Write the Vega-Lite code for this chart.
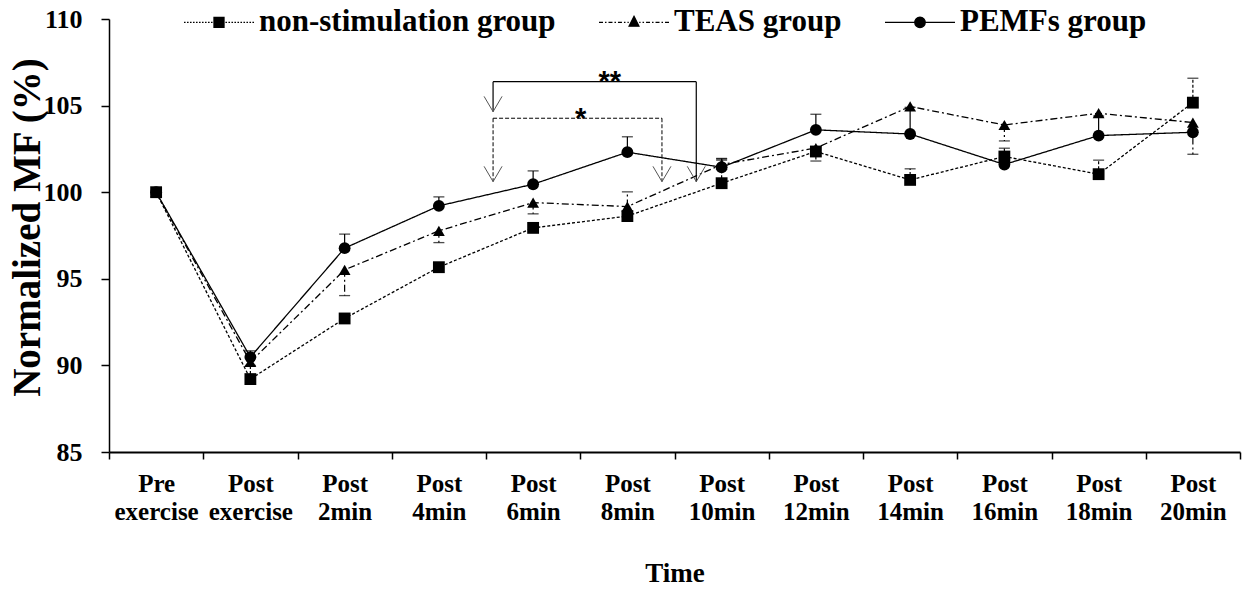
{
  "$schema": "https://vega.github.io/schema/vega-lite/v6.json",
  "width": 1131,
  "height": 433,
  "autosize": {"type": "none"},
  "padding": {"left": 109, "top": 19, "right": 2, "bottom": 139},
  "background": "white",
  "config": {"view": {"stroke": null}, "font": "Liberation Serif"},
  "datasets": {
    "main": [
      {"series": "non-stimulation group", "time": "Pre exercise", "value": 100},
      {"series": "non-stimulation group", "time": "Post exercise", "value": 89.21},
      {"series": "non-stimulation group", "time": "Post 2min", "value": 92.71},
      {"series": "non-stimulation group", "time": "Post 4min", "value": 95.67},
      {"series": "non-stimulation group", "time": "Post 6min", "value": 97.94},
      {"series": "non-stimulation group", "time": "Post 8min", "value": 98.62},
      {"series": "non-stimulation group", "time": "Post 10min", "value": 100.52},
      {"series": "non-stimulation group", "time": "Post 12min", "value": 102.35},
      {"series": "non-stimulation group", "time": "Post 14min", "value": 100.71},
      {"series": "non-stimulation group", "time": "Post 16min", "value": 102.06},
      {"series": "non-stimulation group", "time": "Post 18min", "value": 101.04},
      {"series": "non-stimulation group", "time": "Post 20min", "value": 105.17},
      {"series": "TEAS group", "time": "Pre exercise", "value": 100},
      {"series": "TEAS group", "time": "Post exercise", "value": 90.2},
      {"series": "TEAS group", "time": "Post 2min", "value": 95.52},
      {"series": "TEAS group", "time": "Post 4min", "value": 97.77},
      {"series": "TEAS group", "time": "Post 6min", "value": 99.4},
      {"series": "TEAS group", "time": "Post 8min", "value": 99.17},
      {"series": "TEAS group", "time": "Post 10min", "value": 101.6},
      {"series": "TEAS group", "time": "Post 12min", "value": 102.55},
      {"series": "TEAS group", "time": "Post 14min", "value": 104.95},
      {"series": "TEAS group", "time": "Post 16min", "value": 103.88},
      {"series": "TEAS group", "time": "Post 18min", "value": 104.56},
      {"series": "TEAS group", "time": "Post 20min", "value": 104.02},
      {"series": "PEMFs group", "time": "Pre exercise", "value": 100},
      {"series": "PEMFs group", "time": "Post exercise", "value": 90.48},
      {"series": "PEMFs group", "time": "Post 2min", "value": 96.77},
      {"series": "PEMFs group", "time": "Post 4min", "value": 99.21},
      {"series": "PEMFs group", "time": "Post 6min", "value": 100.46},
      {"series": "PEMFs group", "time": "Post 8min", "value": 102.31},
      {"series": "PEMFs group", "time": "Post 10min", "value": 101.44},
      {"series": "PEMFs group", "time": "Post 12min", "value": 103.6},
      {"series": "PEMFs group", "time": "Post 14min", "value": 103.36},
      {"series": "PEMFs group", "time": "Post 16min", "value": 101.6},
      {"series": "PEMFs group", "time": "Post 18min", "value": 103.27},
      {"series": "PEMFs group", "time": "Post 20min", "value": 103.46}
    ],
    "err": [
      {"series": "non-stimulation group", "time": "Post exercise", "y": 89.21, "y2": 90.0},
      {"series": "non-stimulation group", "time": "Post 10min", "y": 100.52, "y2": 101.85},
      {"series": "non-stimulation group", "time": "Post 12min", "y": 102.35, "y2": 101.8},
      {"series": "non-stimulation group", "time": "Post 14min", "y": 100.71, "y2": 101.35},
      {"series": "non-stimulation group", "time": "Post 16min", "y": 102.06, "y2": 102.54},
      {"series": "non-stimulation group", "time": "Post 18min", "y": 101.04, "y2": 101.85},
      {"series": "non-stimulation group", "time": "Post 20min", "y": 105.17, "y2": 106.58},
      {"series": "TEAS group", "time": "Post 2min", "y": 95.52, "y2": 94.03},
      {"series": "TEAS group", "time": "Post 4min", "y": 97.77, "y2": 97.09},
      {"series": "TEAS group", "time": "Post 6min", "y": 99.4, "y2": 98.75},
      {"series": "TEAS group", "time": "Post 8min", "y": 99.17, "y2": 100.02},
      {"series": "TEAS group", "time": "Post 10min", "y": 101.6, "y2": 101.95},
      {"series": "TEAS group", "time": "Post 16min", "y": 103.88, "y2": 102.96},
      {"series": "TEAS group", "time": "Post 20min", "y": 104.02, "y2": 102.19},
      {"series": "PEMFs group", "time": "Post exercise", "y": 90.48, "y2": 90.84},
      {"series": "PEMFs group", "time": "Post 2min", "y": 96.77, "y2": 97.58},
      {"series": "PEMFs group", "time": "Post 4min", "y": 99.21, "y2": 99.73},
      {"series": "PEMFs group", "time": "Post 6min", "y": 100.46, "y2": 101.23},
      {"series": "PEMFs group", "time": "Post 8min", "y": 102.31, "y2": 103.2},
      {"series": "PEMFs group", "time": "Post 10min", "y": 101.44, "y2": 101.92},
      {"series": "PEMFs group", "time": "Post 12min", "y": 103.6, "y2": 104.5},
      {"series": "PEMFs group", "time": "Post 14min", "y": 103.36, "y2": 104.9},
      {"series": "PEMFs group", "time": "Post 18min", "y": 103.27, "y2": 104.4}
    ],
    "brk": [
      {"sig": "**", "idx": 3.575, "idx2": 3.575, "y": 106.38, "y2": 104.65},
      {"sig": "**", "idx": 3.575, "idx2": 5.731, "y": 106.38, "y2": 106.38},
      {"sig": "**", "idx": 5.731, "idx2": 5.731, "y": 106.38, "y2": 100.61},
      {"sig": "*", "idx": 3.575, "idx2": 3.575, "y": 104.27, "y2": 100.61},
      {"sig": "*", "idx": 3.575, "idx2": 5.367, "y": 104.27, "y2": 104.27},
      {"sig": "*", "idx": 5.367, "idx2": 5.367, "y": 104.27, "y2": 100.61}
    ],
    "arrows": [
      {"idx": 3.575, "y": 104.65},
      {"idx": 5.731, "y": 100.61},
      {"idx": 3.575, "y": 100.61},
      {"idx": 5.367, "y": 100.61}
    ],
    "stars": [
      {"idx": 4.813, "y": 105.87, "label": "**"},
      {"idx": 4.505, "y": 103.68, "label": "*"}
    ]
  },
  "layer": [
    {
      "layer": [
        {
          "mark": {"type": "rule", "strokeDash": [1.5, 1.5], "strokeWidth": 2, "color": "black"},
          "encoding": {
            "y": {"datum": 100, "type": "quantitative", "scale": {"domain": [85, 110], "nice": false, "zero": false}}
          }
        },
        {
          "data": {"name": "main"},
          "mark": {"type": "line", "strokeWidth": 1.3, "color": "black"},
          "encoding": {
            "x": {
              "field": "time", "type": "nominal",
              "scale": {"type": "band", "domain": ["Pre exercise", "Post exercise", "Post 2min", "Post 4min", "Post 6min", "Post 8min", "Post 10min", "Post 12min", "Post 14min", "Post 16min", "Post 18min", "Post 20min"], "paddingInner": 0, "paddingOuter": 0},
              "axis": {
                "title": "Time", "tickBand": "extent", "tickSize": 7, "tickColor": "black", "tickWidth": 1.5,
                "domainColor": "black", "domainWidth": 2, "grid": false, "labelAngle": 0,
                "labelExpr": "split(datum.label, ' ')", "labelFont": "Liberation Serif", "labelFontWeight": "bold",
                "labelFontSize": 25, "labelColor": "black", "labelLineHeight": 28.5, "labelPadding": 12,
                "labelBaseline": "top", "labelOverlap": false, "labelBound": false, "labelFlush": false,
                "titleFont": "Liberation Serif", "titleFontSize": 27, "titleFontWeight": "bold", "titleColor": "black",
                "titleY": 129.7, "titleBaseline": "alphabetic"
              }
            },
            "y": {
              "field": "value", "type": "quantitative",
              "scale": {"domain": [85, 110], "nice": false, "zero": false},
              "axis": {
                "title": "Normalized MF (%)", "values": [85, 90, 95, 100, 105, 110], "tickSize": 8,
                "tickColor": "black", "tickWidth": 1.5, "domainColor": "black", "domainWidth": 1.5, "grid": false,
                "labelFont": "Liberation Serif", "labelFontWeight": "bold", "labelFontSize": 26, "labelColor": "black",
                "labelPadding": 19, "titleFont": "Liberation Serif", "titleFontSize": 39, "titleFontWeight": "bold",
                "titleColor": "black", "titleAngle": -90, "titleX": -82, "titleY": 208, "titleAlign": "center",
                "titleBaseline": "middle"
              }
            },
            "strokeDash": {
              "field": "series", "type": "nominal",
              "scale": {"domain": ["non-stimulation group", "TEAS group", "PEMFs group"], "range": [[3, 2], [7, 3, 2, 3], [1, 0]]},
              "legend": null
            }
          }
        },
        {
          "data": {"name": "err"},
          "mark": {"type": "rule", "strokeWidth": 1.2, "color": "black"},
          "encoding": {
            "x": {"field": "time", "type": "nominal", "scale": {"type": "band", "domain": ["Pre exercise", "Post exercise", "Post 2min", "Post 4min", "Post 6min", "Post 8min", "Post 10min", "Post 12min", "Post 14min", "Post 16min", "Post 18min", "Post 20min"], "paddingInner": 0, "paddingOuter": 0}},
            "y": {"field": "y", "type": "quantitative", "scale": {"domain": [85, 110], "nice": false, "zero": false}},
            "y2": {"field": "y2"},
            "strokeDash": {
              "field": "series", "type": "nominal",
              "scale": {"domain": ["non-stimulation group", "TEAS group", "PEMFs group"], "range": [[3, 2], [7, 3, 2, 3], [1, 0]]},
              "legend": null
            }
          }
        },
        {
          "data": {"name": "err"},
          "mark": {"type": "tick", "size": 11, "thickness": 1.3, "color": "black"},
          "encoding": {
            "x": {"field": "time", "type": "nominal", "scale": {"type": "band", "domain": ["Pre exercise", "Post exercise", "Post 2min", "Post 4min", "Post 6min", "Post 8min", "Post 10min", "Post 12min", "Post 14min", "Post 16min", "Post 18min", "Post 20min"], "paddingInner": 0, "paddingOuter": 0}},
            "y": {"field": "y2", "type": "quantitative", "scale": {"domain": [85, 110], "nice": false, "zero": false}}
          }
        },
        {
          "data": {"name": "main"},
          "mark": {"type": "point", "filled": true, "color": "black", "size": 140, "opacity": 1},
          "encoding": {
            "x": {"field": "time", "type": "nominal", "scale": {"type": "band", "domain": ["Pre exercise", "Post exercise", "Post 2min", "Post 4min", "Post 6min", "Post 8min", "Post 10min", "Post 12min", "Post 14min", "Post 16min", "Post 18min", "Post 20min"], "paddingInner": 0, "paddingOuter": 0}},
            "y": {"field": "value", "type": "quantitative", "scale": {"domain": [85, 110], "nice": false, "zero": false}},
            "shape": {
              "field": "series", "type": "nominal",
              "scale": {"domain": ["non-stimulation group", "TEAS group", "PEMFs group"], "range": ["square", "triangle-up", "circle"]},
              "legend": null
            }
          }
        }
      ]
    },
    {
      "layer": [
        {
          "data": {"name": "brk"},
          "transform": [{"filter": "datum.sig == '**'"}],
          "mark": {"type": "rule", "strokeWidth": 1.2, "color": "black"},
          "encoding": {
            "x": {"field": "idx", "type": "quantitative", "scale": {"domain": [-0.5, 11.5], "nice": false, "zero": false}, "axis": null},
            "x2": {"field": "idx2"},
            "y": {"field": "y", "type": "quantitative", "scale": {"domain": [85, 110], "nice": false, "zero": false}},
            "y2": {"field": "y2"}
          }
        },
        {
          "data": {"name": "brk"},
          "transform": [{"filter": "datum.sig == '*'"}],
          "mark": {"type": "rule", "strokeWidth": 1, "color": "black", "strokeDash": [4, 2]},
          "encoding": {
            "x": {"field": "idx", "type": "quantitative", "scale": {"domain": [-0.5, 11.5], "nice": false, "zero": false}, "axis": null},
            "x2": {"field": "idx2"},
            "y": {"field": "y", "type": "quantitative", "scale": {"domain": [85, 110], "nice": false, "zero": false}},
            "y2": {"field": "y2"}
          }
        },
        {
          "data": {"name": "arrows"},
          "mark": {"type": "point", "shape": "M-1,-1.7L0,0L1,-1.7", "size": 324, "filled": false, "stroke": "#555555", "strokeWidth": 1, "opacity": 1},
          "encoding": {
            "x": {"field": "idx", "type": "quantitative", "scale": {"domain": [-0.5, 11.5], "nice": false, "zero": false}, "axis": null},
            "y": {"field": "y", "type": "quantitative", "scale": {"domain": [85, 110], "nice": false, "zero": false}}
          }
        },
        {
          "data": {"name": "stars"},
          "mark": {"type": "text", "font": "Liberation Sans", "fontWeight": "bold", "fontSize": 29, "color": "black", "baseline": "alphabetic", "align": "center"},
          "encoding": {
            "x": {"field": "idx", "type": "quantitative", "scale": {"domain": [-0.5, 11.5], "nice": false, "zero": false}, "axis": null},
            "y": {"field": "y", "type": "quantitative", "scale": {"domain": [85, 110], "nice": false, "zero": false}},
            "text": {"field": "label"}
          }
        },
        {
          "data": {"name": "main"},
          "transform": [{"filter": "false"}],
          "mark": {"type": "point", "filled": false, "fill": "black", "stroke": "black", "strokeWidth": 1.3, "opacity": 1},
          "encoding": {
            "shape": {
              "field": "series", "type": "nominal",
              "scale": {
                "domain": ["non-stimulation group", "TEAS group", "PEMFs group"],
                "range": [
                  "M-1,0h0.045M-0.914,0h0.045M-0.829,0h0.045M-0.743,0h0.045M-0.657,0h0.045M-0.571,0h0.045M-0.486,0h0.045M-0.4,0h0.045M-0.314,0h0.045M-0.229,0h0.045M0.184,0h0.045M0.27,0h0.045M0.356,0h0.045M0.441,0h0.045M0.527,0h0.045M0.613,0h0.045M0.699,0h0.045M0.784,0h0.045M0.87,0h0.045M0.955,0h0.045M-0.143,-0.143H0.143V0.143H-0.143Z",
                  "M-1,0H-0.886M-0.829,0H-0.786M-0.729,0H-0.615M-0.558,0H-0.515M-0.458,0H-0.344M-0.287,0H-0.244M-0.187,0H-0.15M0.15,0H0.187M0.244,0H0.287M0.344,0H0.458M0.515,0H0.558M0.615,0H0.729M0.786,0H0.829M0.886,0H1M0,-0.17L0.14,0.11H-0.14Z",
                  "M-1,0H1M-0.15,0A0.15,0.15 0 1,0 0.15,0A0.15,0.15 0 1,0 -0.15,0Z"
                ]
              },
              "legend": {
                "title": null, "orient": "none", "legendX": 74, "legendY": -32.7, "direction": "horizontal",
                "symbolSize": 4900, "symbolStrokeWidth": 1.3,
                "labelFont": "Liberation Serif", "labelFontSize": 31, "labelFontWeight": "bold", "labelColor": "black",
                "labelOffset": 4, "columnPadding": 40, "labelLimit": 0
              }
            }
          }
        }
      ]
    }
  ],
  "resolve": {"scale": {"x": "independent", "shape": "independent"}}
}
